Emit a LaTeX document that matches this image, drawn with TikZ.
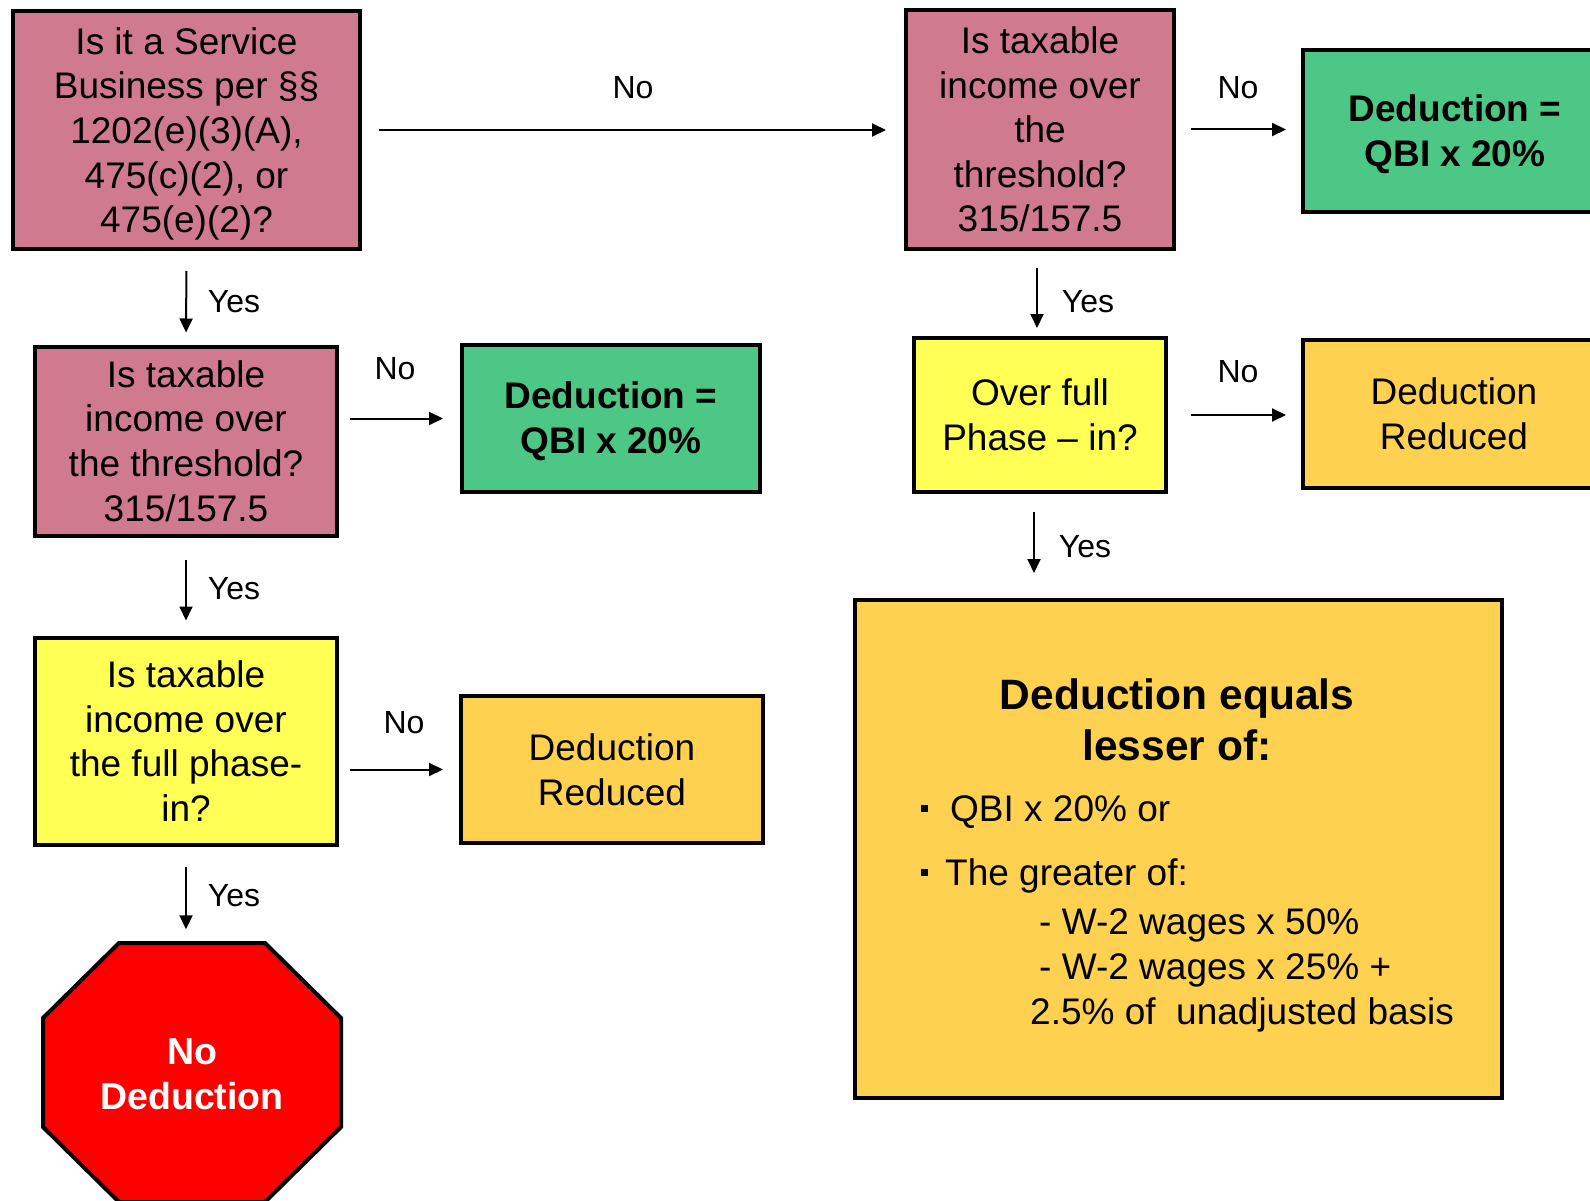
\documentclass[tikz,border=0pt]{standalone}
\usepackage{fontspec}
\setmainfont{Liberation Sans}
\usetikzlibrary{arrows.meta}
\definecolor{pinkq}{RGB}{208,122,143}
\definecolor{greend}{RGB}{77,199,133}
\definecolor{yellowq}{RGB}{255,255,85}
\definecolor{oranged}{RGB}{255,209,80}
\definecolor{stopred}{RGB}{255,0,0}
\begin{document}
\begin{tikzpicture}[x=1pt,y=-1pt,
  box/.style={draw=black, line width=4pt, rectangle, align=center, inner sep=0pt,
    font=\fontsize{37}{44.6}\selectfont},
  txt/.style={align=center, inner sep=0pt, font=\fontsize{37}{44.6}\selectfont},
  boldtxt/.style={txt, font=\fontsize{37}{44.6}\selectfont\bfseries},
  arr/.style={line width=2pt, -{Triangle[length=14pt,width=13pt]}},
  lbl/.style={font=\fontsize{32}{38}\selectfont, inner sep=0pt},
  jline/.style={anchor=base west, inner sep=0pt, font=\fontsize{37}{45}\selectfont},
]
\clip (0,0) rectangle (1590,1201);
\fill[white] (0,0) rectangle (1590,1201);

% boxes
\node[box, fill=pinkq, minimum width=347pt, minimum height=238pt] (A) at (186.5,130) {};
\node[txt] (At) at ([yshift=-4pt]A.center)
  {Is it a Service\\Business per §§\\1202(e)(3)(A),\\475(c)(2), or\\475(e)(2)?};
\node[box, fill=pinkq, minimum width=268pt, minimum height=239pt] (B) at (1040,129.5)
  {Is taxable\\income over\\the\\threshold?\\315/157.5};
\node[box, fill=greend, minimum width=304pt, minimum height=162pt] (C) at (1455,131) {};
\node[boldtxt] (Ct) at ([yshift=-3pt]C.center) {Deduction =\\QBI x 20\%};
\node[box, fill=pinkq, minimum width=302pt, minimum height=189pt] (D) at (186,441)
  {Is taxable\\income over\\the threshold?\\315/157.5};
\node[box, fill=greend, minimum width=298pt, minimum height=147pt] (E) at (611,418.5) {};
\node[boldtxt] (Et) at ([yshift=-3pt]E.center) {Deduction =\\QBI x 20\%};
\node[box, fill=yellowq, minimum width=252pt, minimum height=154pt] (F) at (1040,415)
  {Over full\\Phase – in?};
\node[box, fill=oranged, minimum width=302pt, minimum height=148pt] (G) at (1454,414)
  {Deduction\\Reduced};
\node[box, fill=yellowq, minimum width=302pt, minimum height=207pt] (H) at (186,741)
  {Is taxable\\income over\\the full phase-\\in?};
\node[box, fill=oranged, minimum width=302pt, minimum height=147pt] (I) at (612,769.5)
  {Deduction\\Reduced};
\node[box, fill=oranged, minimum width=647pt, minimum height=498pt] (J) at (1178.5,849) {};

% stop sign
\draw[line width=4pt, fill=stopred] (119,943) -- (265,943) -- (341,1018) -- (341,1127)
  -- (265,1202) -- (119,1202) -- (43,1127) -- (43,1018) -- cycle;
\node[align=center, inner sep=0pt, text=white, minimum width=298pt, minimum height=259pt,
  font=\fontsize{37.5}{45}\selectfont\bfseries] (oct) at (192,1074) {No\\Deduction};

% big box content
\node[align=center, inner sep=0pt, font=\fontsize{42.5}{51}\selectfont\bfseries] (jt) at (1177,720)
  {Deduction equals\\lesser of:};
\fill (920.5,804.5) rectangle +(7,7);
\fill (920.5,868.5) rectangle +(7,7);
\node[jline] (j1) at (950,821) {QBI x 20\% or};
\node[jline] (j2) at (945,885) {The greater of:};
\node[jline] (j3) at (1039,934) {- W-2 wages x 50\%};
\node[jline] (j4) at (1039,979) {- W-2 wages x 25\% +};
\node[jline] (j5) at (1030,1024) {2.5\% of\ \ unadjusted basis};

% connectors
\draw[arr, shorten <=17pt, shorten >=18pt] (A.east) -- (A.east -| B.west);
\draw[arr, shorten <=15pt, shorten >=15pt] (B.east) -- (B.east -| C.west);
\draw[arr, shorten <=20pt, shorten >=12pt] (A.south) -- (D.north);
\draw[arr, shorten <=17pt, shorten >=8pt] ([xshift=-3pt]B.south) -- ([xshift=-3pt]B.south |- F.north);
\draw[arr, shorten <=11pt, shorten >=17pt] (D.east |- E.west) -- (E.west);
\draw[arr, shorten <=23pt, shorten >=15pt] (F.east) -- (F.east -| G.west);
\draw[arr, shorten <=22pt, shorten >=15pt] (D.south) -- (H.north);
\draw[arr, shorten <=18pt, shorten >=25pt] ([xshift=-6pt]F.south) -- ([xshift=-6pt]F.south |- J.north);
\draw[arr, shorten <=11pt, shorten >=16pt] (H.east |- I.west) -- (I.west);
\draw[arr, shorten <=20pt, shorten >=15pt] (H.south) -- (H.south |- oct.north);

% labels
\node[lbl] (lAB) at (633,88) {No};
\node[lbl] (lBC) at (1238,88) {No};
\node[lbl] (lAD) at (234,302) {Yes};
\node[lbl] (lBF) at (1088,302) {Yes};
\node[lbl] (lDE) at (395,369) {No};
\node[lbl] (lFG) at (1238,372) {No};
\node[lbl] (lDH) at (234,589) {Yes};
\node[lbl] (lFJ) at (1085,547) {Yes};
\node[lbl] (lHI) at (404,723) {No};
\node[lbl] (lHO) at (234,896) {Yes};
\end{tikzpicture}
\end{document}
